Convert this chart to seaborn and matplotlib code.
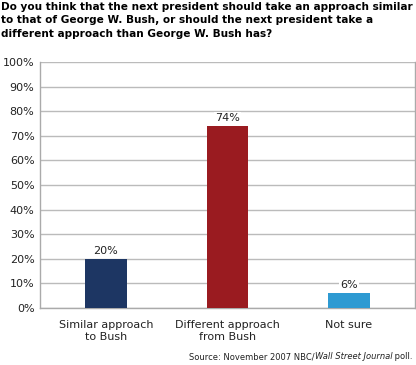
import matplotlib
matplotlib.use("Agg")
import matplotlib.pyplot as plt
import seaborn as sns
import pandas as pd

categories = ["Similar approach\nto Bush", "Different approach\nfrom Bush", "Not sure"]
values = [20, 74, 6]
colors = ["#1d3663", "#9a1b20", "#2e9ad2"]
yticks = [0, 10, 20, 30, 40, 50, 60, 70, 80, 90, 100]

sns.set_theme(style="white")
plt.rcParams['font.family'] = ['DejaVu Sans']

df = pd.DataFrame({"cat": categories, "val": values})

fig = plt.figure(figsize=(4.16, 3.65), dpi=100)
ax = fig.add_axes([40/416, 1-308/365, 375/416, (308-62)/365])
sns.barplot(data=df, x="cat", y="val", hue="cat", palette=colors, legend=False,
            width=0.345, ax=ax, saturation=1, edgecolor="none", zorder=3)

ax.set_xlim(-0.543, 2.543)
ax.set_ylim(0, 100)
ax.set_yticks(yticks)
ax.set_yticklabels([f"{v}%" for v in yticks], fontsize=8, color="#222222")
ax.tick_params(axis="x", labelsize=8, colors="#222222", length=0, pad=9)
ax.tick_params(axis="y", length=0, pad=4)
ax.set_xlabel("")
ax.set_ylabel("")
ax.yaxis.grid(True, color="#bbbbbb", linewidth=1, zorder=0)
for s in ["left", "right", "bottom"]:
    ax.spines[s].set_color("#aaaaaa")
    ax.spines[s].set_linewidth(1)
ax.spines["top"].set_visible(False)

for i, v in enumerate(values):
    ax.text(i, v + 1.2, f"{v}%", ha="center", va="bottom", fontsize=8, color="#222222",
            zorder=4, bbox=dict(facecolor="white", edgecolor="none", pad=1.0))

fig.text(1/416, 1-2/365,
         "Do you think that the next president should take an approach similar\n"
         "to that of George W. Bush, or should the next president take a\n"
         "different approach than George W. Bush has?",
         ha="left", va="top", fontsize=7.55, fontweight="bold", color="#000000", linespacing=1.42)

# Source line built from pieces (right-aligned), italic newspaper name
fig.canvas.draw()
renderer = fig.canvas.get_renderer()
pieces = [("Source: November 2007 NBC/", "normal"), ("Wall Street Journal", "italic"), (" poll.", "normal")]
x_right = 413
y_base = 1 - 361/365
fs = 6.0
widths = []
tmp = []
for s, st in pieces:
    t = fig.text(0, y_base, s, fontsize=fs, style=st, color="#222222", ha="left", va="bottom")
    widths.append(t.get_window_extent(renderer).width)
    tmp.append(t)
x = x_right - sum(widths)
for t, w in zip(tmp, widths):
    t.set_x(x / 416)
    x += w

fig.savefig("out.png", dpi=100)
